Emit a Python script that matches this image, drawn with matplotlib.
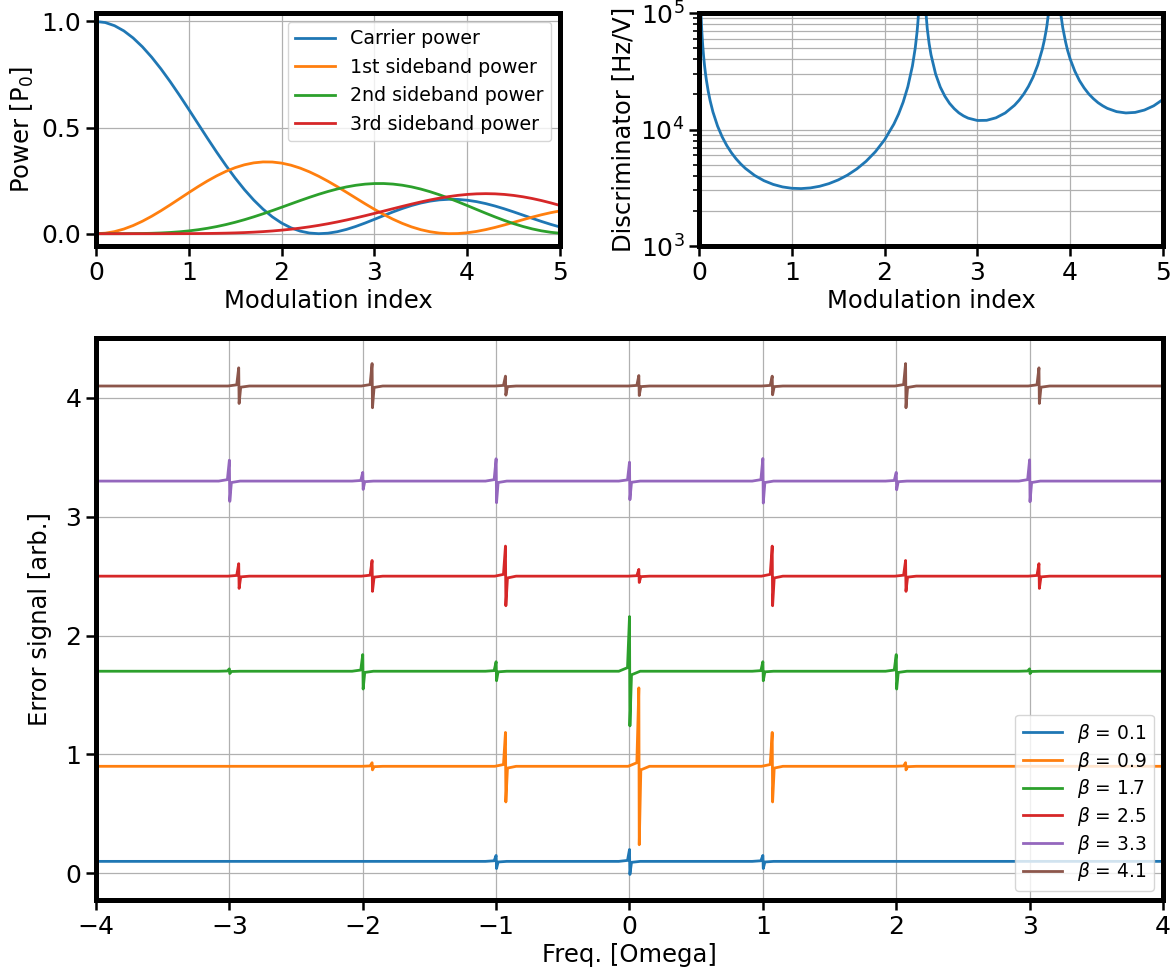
import matplotlib
matplotlib.use("Agg")
import matplotlib.pyplot as plt

# ---------------- data: top-left (power vs modulation index) ----------------
mod_index = [0.0, 0.1, 0.2, 0.3, 0.4, 0.5, 0.6, 0.7, 0.8, 0.9,
             1.0, 1.1, 1.2, 1.3, 1.4, 1.5, 1.6, 1.7, 1.8, 1.9,
             2.0, 2.1, 2.2, 2.3, 2.4, 2.5, 2.6, 2.7, 2.8, 2.9,
             3.0, 3.1, 3.2, 3.3, 3.4, 3.5, 3.6, 3.7, 3.8, 3.9,
             4.0, 4.1, 4.2, 4.3, 4.4, 4.5, 4.6, 4.7, 4.8, 4.9, 5.0]

carrier_power = [1.0, 0.99501, 0.98014, 0.95576, 0.92237, 0.88073, 0.83174, 0.77651, 0.71621, 0.65209,
                 0.58553, 0.51785, 0.45042, 0.38451, 0.32133, 0.26197, 0.20739, 0.15839, 0.11559, 0.07942,
                 0.05013, 0.02776, 0.01218, 0.00308, 0.00001, 0.00234, 0.00937, 0.02029, 0.03424, 0.05032,
                 0.06763, 0.08530, 0.10252, 0.11854, 0.13271, 0.14450, 0.15348, 0.15938, 0.16205, 0.16147,
                 0.15773, 0.15107, 0.14180, 0.13033, 0.11714, 0.10275, 0.08770, 0.07254, 0.05781, 0.04399, 0.03154]

sb1_power = [0.0, 0.00249, 0.00990, 0.02200, 0.03843, 0.05869, 0.08220, 0.10824, 0.13604, 0.16480,
             0.19364, 0.22175, 0.24829, 0.27250, 0.29371, 0.31130, 0.32478, 0.33382, 0.33817, 0.33775,
             0.33261, 0.32295, 0.30909, 0.29146, 0.27060, 0.24710, 0.22167, 0.19501, 0.16786, 0.14095,
             0.11496, 0.09055, 0.06830, 0.04869, 0.03212, 0.01887, 0.00911, 0.00290, 0.00016, 0.00074,
             0.00436, 0.01066, 0.01922, 0.02955, 0.04112, 0.05339, 0.06582, 0.07789, 0.08910, 0.09903, 0.10731]

sb2_power = [0.0, 0.0000016, 0.0000248, 0.0001247, 0.0003895, 0.0009366, 0.0019066, 0.003456, 0.005748, 0.008947,
             0.013203, 0.018649, 0.025392, 0.033496, 0.042997, 0.053866, 0.066033, 0.079383, 0.093724, 0.108854,
             0.124492, 0.140340, 0.156072, 0.171321, 0.185744, 0.198961, 0.210656, 0.220487, 0.228183, 0.233511,
             0.236284, 0.236390, 0.233799, 0.228513, 0.220640, 0.210341, 0.197851, 0.183467, 0.167530, 0.150435,
             0.132589, 0.114440, 0.096432, 0.078995, 0.062543, 0.047459, 0.034070, 0.022671, 0.013453, 0.006608, 0.002168]

sb3_power = [0.0, 0.0, 0.0, 0.0000003, 0.0000017, 0.0000066, 0.0000194, 0.000048, 0.000105, 0.000208,
             0.000383, 0.000660, 0.001081, 0.001692, 0.002550, 0.003717, 0.005260, 0.007254, 0.009762, 0.012866,
             0.016626, 0.021103, 0.026349, 0.032393, 0.039250, 0.046911, 0.055363, 0.064536, 0.074365, 0.084733,
             0.095520, 0.106557, 0.117694, 0.128716, 0.139419, 0.149591, 0.159012, 0.167469, 0.174746, 0.180668,
             0.185047, 0.187758, 0.188698, 0.187792, 0.185009, 0.180370, 0.173947, 0.165828, 0.156190, 0.145199, 0.133102]

power_labels = ["Carrier power", "1st sideband power", "2nd sideband power", "3rd sideband power"]

# ---------------- data: top-right (discriminator) ----------------
disc_x = [0.01, 0.02, 0.03, 0.04, 0.05, 0.06, 0.07, 0.08, 0.10, 0.12, 0.15, 0.20, 0.25, 0.30, 0.35,
          0.40, 0.45, 0.50, 0.60, 0.70, 0.80, 0.90,
          1.00, 1.10, 1.20, 1.30, 1.40, 1.50, 1.60, 1.70, 1.80, 1.90, 2.00, 2.10, 2.15, 2.20, 2.25,
          2.30, 2.33, 2.35, 2.36, 2.38, 2.42, 2.43, 2.44, 2.46, 2.48, 2.50, 2.55, 2.60, 2.65, 2.70,
          2.75, 2.80, 2.85, 2.90, 3.00, 3.10, 3.20, 3.30, 3.40, 3.45, 3.50, 3.55, 3.60, 3.65, 3.70,
          3.72, 3.74, 3.75, 3.77, 3.79, 3.87, 3.89, 3.90, 3.92, 3.95, 3.97, 4.00, 4.05, 4.10, 4.15,
          4.20, 4.25, 4.30, 4.35, 4.40, 4.50, 4.60, 4.70, 4.80, 4.90, 5.00]
disc_y = [210800, 105400, 70270, 52730, 42190, 35180, 30170, 26410, 21160, 17660, 14160, 10700, 8632, 7269, 6308,
          5598, 5058, 4636, 4031, 3636, 3377, 3215,
          3130, 3110, 3152, 3256, 3431, 3691, 4061, 4584, 5331, 6435, 8163, 11130, 13540, 17180, 23240,
          35150, 49960, 69000, 85400, 155700, 259600, 157500, 113200, 73090, 54470, 43830, 29880, 23130, 19270, 16760,
          15100, 13900, 13090, 12520, 11950, 11990, 12600, 13870, 16140, 17860, 20180, 23430, 28180, 35700, 49050,
          57750, 70260, 78830, 105500, 154800, 170000, 111700, 96290, 74750, 56530, 48330, 40190, 31650, 26260, 22750,
          20190, 18390, 16990, 15980, 15190, 14230, 13870, 14020, 14690, 15970, 18120]

# ---------------- data: bottom (error signals) ----------------
freq_range = [-4.0, 4.0]
betas = [0.1, 0.9, 1.7, 2.5, 3.3, 4.1]
baselines = [0.1, 0.9, 1.7, 2.5, 3.3, 4.1]
spike_pos = [
    [-1.0, 0.0, 1.0],
    [-1.93, -0.93, 0.07, 1.07, 2.07],
    [-3.0, -2.0, -1.0, 0.0, 1.0, 2.0, 3.0],
    [-2.93, -1.93, -0.93, 0.07, 1.07, 2.07, 3.07],
    [-3.0, -2.0, -1.0, 0.0, 1.0, 2.0, 3.0],
    [-2.93, -1.93, -0.93, 0.07, 1.07, 2.07, 3.07],
]
spike_top = [
    [0.15, 0.20, 0.15],
    [0.93, 1.185, 1.56, 1.185, 0.93],
    [1.72, 1.84, 1.78, 2.16, 1.78, 1.84, 1.72],
    [2.605, 2.632, 2.753, 2.557, 2.753, 2.632, 2.605],
    [3.476, 3.373, 3.488, 3.459, 3.490, 3.373, 3.479],
    [4.253, 4.289, 4.183, 4.188, 4.183, 4.289, 4.253],
]
spike_bottom = [
    [0.04, -0.01, 0.04],
    [0.87, 0.60, 0.24, 0.60, 0.87],
    [1.68, 1.55, 1.62, 1.24, 1.62, 1.55, 1.68],
    [2.397, 2.372, 2.251, 2.447, 2.251, 2.372, 2.397],
    [3.129, 3.230, 3.118, 3.143, 3.115, 3.227, 3.126],
    [3.953, 3.917, 4.023, 4.020, 4.026, 3.917, 3.953],
]
spike_shoulder = [
    [0.005, 0.008, 0.005],
    [0.003, 0.015, 0.03, 0.015, 0.003],
    [0.002, 0.01, 0.005, 0.03, 0.005, 0.01, 0.002],
    [0.006, 0.008, 0.015, 0.004, 0.015, 0.008, 0.006],
    [0.012, 0.005, 0.012, 0.01, 0.012, 0.005, 0.012],
    [0.01, 0.012, 0.005, 0.005, 0.005, 0.012, 0.01],
]

colors = ["#1f77b4", "#ff7f0e", "#2ca02c", "#d62728", "#9467bd", "#8c564b"]

# ---------------- styling ----------------
plt.rcParams["font.family"] = ["DejaVu Sans"]
TICK_FS = 18
LABEL_FS = 17.5
SPINE_LW = 3.6
LINE_LW = 2.0


def style_axes(ax):
    for s in ax.spines.values():
        s.set_linewidth(SPINE_LW)
        s.set_color("black")
    ax.tick_params(axis="both", which="major", labelsize=TICK_FS, length=7, width=1.8,
                   direction="out", color="black")
    ax.grid(True, which="major", color="#b0b0b0", linewidth=0.9)
    ax.set_axisbelow(True)


W, H = 1175.0, 974.0
fig = plt.figure(figsize=(11.75, 9.74), dpi=100)


def px_axes(left, top, right, bottom):
    return fig.add_axes([left / W, 1 - bottom / H, (right - left) / W, (bottom - top) / H])


# top-left
ax1 = px_axes(96, 13, 560, 246)
for yv, lab, c in zip([carrier_power, sb1_power, sb2_power, sb3_power], power_labels, colors):
    ax1.plot(mod_index, yv, color=c, lw=LINE_LW, label=lab)
ax1.set_xlim(0, 5)
ax1.set_ylim(-0.058, 1.04)
ax1.set_yticks([0.0, 0.5, 1.0])
ax1.set_xticks([0, 1, 2, 3, 4, 5])
ax1.set_xlabel("Modulation index", fontsize=LABEL_FS, labelpad=3)
ax1.set_ylabel("Power [P$_0$]", fontsize=LABEL_FS, labelpad=4)
style_axes(ax1)
ax1.legend(loc="upper right", fontsize=13.7, handlelength=2.1, borderaxespad=0.45)

# top-right
ax2 = px_axes(699, 13, 1163, 246)
ax2.plot(disc_x, disc_y, color=colors[0], lw=LINE_LW)
ax2.set_yscale("log")
ax2.set_xlim(0, 5)
ax2.set_ylim(1e3, 1e5)
ax2.set_xticks([0, 1, 2, 3, 4, 5])
ax2.set_xlabel("Modulation index", fontsize=LABEL_FS, labelpad=3)
ax2.set_ylabel("Discriminator [Hz/V]", fontsize=LABEL_FS, labelpad=4)
style_axes(ax2)
ax2.grid(True, which="minor", axis="y", color="#b0b0b0", linewidth=0.9)
ax2.tick_params(axis="y", which="minor", length=4, width=1.2)

# bottom
ax3 = px_axes(96, 338, 1163, 900)
for b, base, pos, top, bot, sh, c in zip(betas, baselines, spike_pos, spike_top,
                                         spike_bottom, spike_shoulder, colors):
    xs = [freq_range[0]]
    ys = [base]
    for p, t, bt, s in zip(pos, top, bot, sh):
        xs += [p - 0.08, p - 0.015, p, p + 0.003, p + 0.015, p + 0.08]
        ys += [base, base + s, t, bt, base - s, base]
    xs.append(freq_range[1])
    ys.append(base)
    ax3.plot(xs, ys, color=c, lw=LINE_LW, label=r"$\beta$ = %.1f" % b)
ax3.set_xlim(-4, 4)
ax3.set_ylim(-0.225, 4.504)
ax3.set_xticks([-4, -3, -2, -1, 0, 1, 2, 3, 4])
ax3.set_yticks([0, 1, 2, 3, 4])
ax3.set_xlabel("Freq. [Omega]", fontsize=LABEL_FS, labelpad=3)
ax3.set_ylabel("Error signal [arb.]", fontsize=LABEL_FS, labelpad=10)
style_axes(ax3)
ax3.legend(loc="lower right", fontsize=13.4, handlelength=2.1, labelspacing=0.25,
           borderaxespad=0.5)

fig.savefig("out.png", dpi=100)
